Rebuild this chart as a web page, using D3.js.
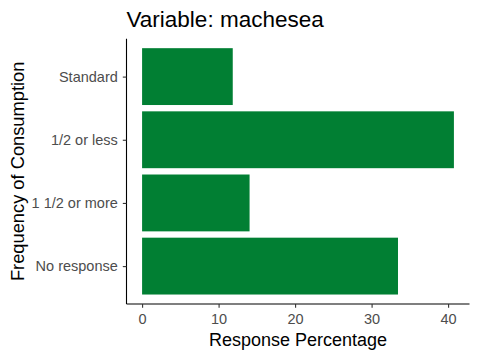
<!DOCTYPE html>
<html>
<head>
<meta charset="utf-8">
<script src="https://cdn.jsdelivr.net/npm/d3@7"></script>
<style>
  body { margin: 0; background: #fff; }
  svg { display: block; font-family: "Liberation Sans", Arial, sans-serif; }
</style>
</head>
<body>
<svg id="chart" width="480" height="360"></svg>
<script>
const categories = ["Standard", "1/2 or less", "1 1/2 or more", "No response"];
const values = [11.85, 40.76, 14.05, 33.45];
const xTicks = [0, 10, 20, 30, 40];
const titleText = "Variable: machesea";
const xTitle = "Response Percentage";
const yTitle = "Frequency of Consumption";

const svg = d3.select("#chart");
const pLeft = 126.5, pRight = 469.5, pTop = 38.7, pBottom = 304;
const maxV = d3.max(values);
const x = d3.scaleLinear().domain([-0.05 * maxV, 1.05 * maxV]).range([pLeft, pRight]);
const n = categories.length;
const step = (pBottom - pTop) / (n - 1 + 1.2);
const y = d3.scalePoint().domain(categories).range([pTop + 0.6 * step, pBottom - 0.6 * step]);
const bw = step * 0.9;

svg.append("g").selectAll("rect").data(categories).join("rect")
  .attr("x", x(0))
  .attr("y", d => y(d) - bw / 2)
  .attr("width", (d, i) => x(values[i]) - x(0))
  .attr("height", bw)
  .attr("fill", "#017f33");

const xAxis = svg.append("g").attr("transform", `translate(0,${pBottom})`)
  .call(d3.axisBottom(x).tickValues(xTicks).tickSize(3.7).tickPadding(3));
const yAxis = svg.append("g").attr("transform", `translate(${pLeft},0)`)
  .call(d3.axisLeft(y).tickSize(3.7).tickPadding(5));

[xAxis, yAxis].forEach(a => {
  a.attr("font-size", 14.5).attr("font-family", "Liberation Sans, Arial, sans-serif");
  a.select(".domain").attr("stroke", "#000").attr("stroke-width", 1.1)
    .attr("d", a === xAxis ? `M${pLeft},0H${pRight}` : `M0,${pTop}V${pBottom}`);
  a.selectAll(".tick line").attr("stroke", "#333").attr("stroke-width", 1.1);
  a.selectAll(".tick text").attr("fill", "#4d4d4d");
});
xAxis.selectAll(".tick text").attr("dy", null).attr("y", 20.3);

svg.append("text").attr("x", (pLeft + pRight) / 2).attr("y", 346)
  .attr("text-anchor", "middle").attr("font-size", 18).attr("fill", "#000").text(xTitle);
svg.append("text").attr("transform", `translate(24,${(pTop + pBottom) / 2}) rotate(-90)`)
  .attr("text-anchor", "middle").attr("font-size", 18.3).attr("fill", "#000").text(yTitle);
svg.append("text").attr("x", pLeft).attr("y", 26.7)
  .attr("font-size", 22.5).attr("fill", "#000").text(titleText);
</script>
</body>
</html>
